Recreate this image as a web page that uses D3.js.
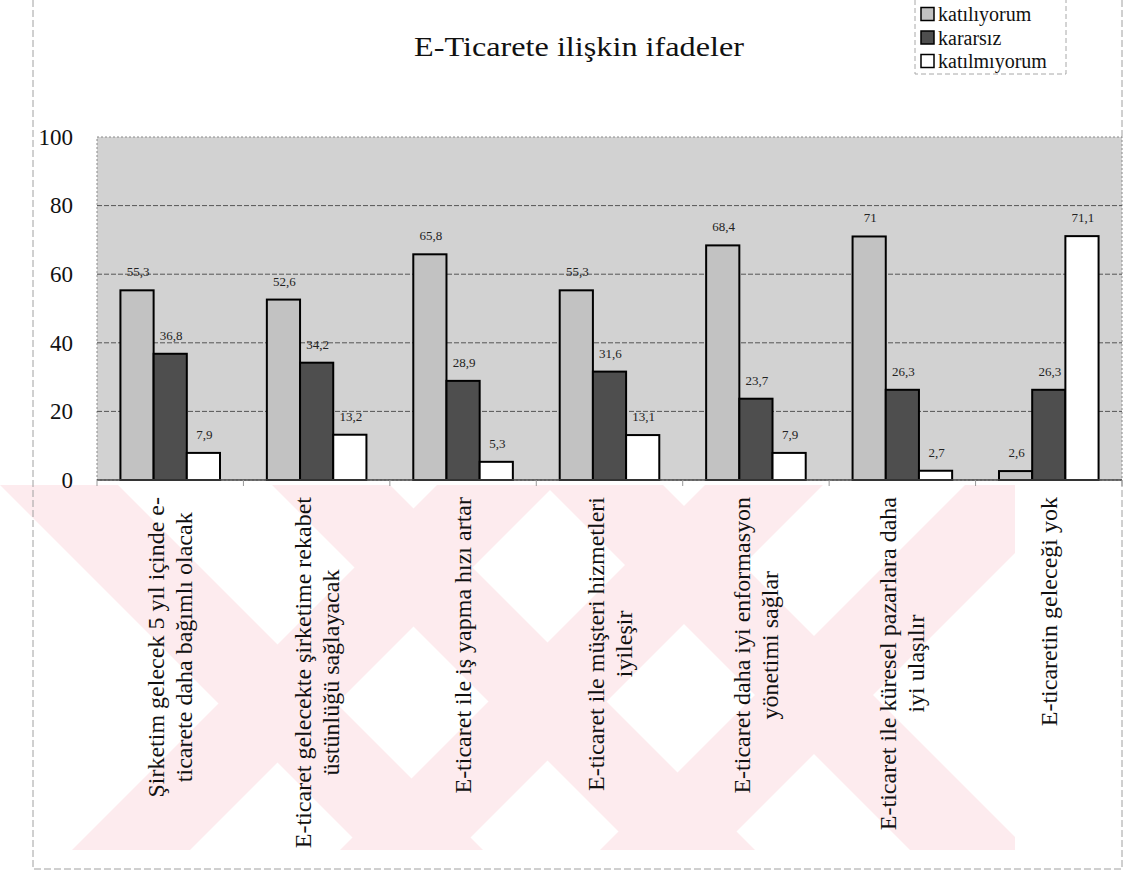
<!DOCTYPE html>
<html>
<head>
<meta charset="utf-8">
<script src="https://cdn.jsdelivr.net/npm/d3@7/dist/d3.min.js"></script>
<style>
body { margin: 0; background: #fff; }
</style>
</head>
<body>
<div id="chart"></div>
<script>
// data
var categories = ['c1', 'c2', 'c3', 'c4', 'c5', 'c6', 'c7'];
var categoryLines = [
    ['Şirketim gelecek 5 yıl içinde e-', 'ticarete daha bağımlı olacak'],
    ['E-ticaret gelecekte şirketime rekabet', 'üstünlüğü sağlayacak'],
    ['E-ticaret ile iş yapma hızı artar'],
    ['E-ticaret ile müşteri hizmetleri', 'iyileşir'],
    ['E-ticaret daha iyi enformasyon', 'yönetimi sağlar'],
    ['E-ticaret ile küresel pazarlara daha', 'iyi ulaşılır'],
    ['E-ticaretin geleceği yok']
];
var seriesNames = ['katılıyorum', 'kararsız', 'katılmıyorum'];
var katiliyorum = [55.3, 52.6, 65.8, 55.3, 68.4, 71, 2.6];
var kararsiz = [36.8, 34.2, 28.9, 31.6, 23.7, 26.3, 26.3];
var katilmiyorum = [7.9, 13.2, 5.3, 13.1, 7.9, 2.7, 71.1];
var yTicks = [0, 20, 40, 60, 80, 100];
var title = 'E-Ticarete ilişkin ifadeler';

var seriesValues = [katiliyorum, kararsiz, katilmiyorum];
var seriesFill = ['#c2c2c2', '#4e4e4e', '#ffffff'];
var serif = '"Liberation Serif", "Times New Roman", "DejaVu Serif", serif';

var W = 1126, H = 874;
var plot = { left: 97, right: 1122, top: 137, bottom: 480 };

var svg = d3.select('#chart').append('svg')
    .attr('width', W)
    .attr('height', H)
    .attr('font-family', serif);

// scanned page watermark (decorative)
var wmTop = 485, wmBottom = 850, wmW = 118;
var back = [0, 272, 545];      // "\" stripes, left edge at top
var fwd = [72, 340, 600];      // "/" stripes, left edge at bottom
svg.append('clipPath').attr('id', 'wm-clip')
    .append('rect')
    .attr('x', 0).attr('y', wmTop)
    .attr('width', 1015).attr('height', wmBottom - wmTop);
var wm = svg.append('g').attr('clip-path', 'url(#wm-clip)').attr('fill', '#fdebee');
var hh = wmBottom - wmTop;
wm.selectAll('path.b').data(back).enter().append('path')
    .attr('d', function(a) {
        return 'M' + a + ',' + wmTop + ' L' + (a + wmW) + ',' + wmTop +
            ' L' + (a + wmW + hh) + ',' + wmBottom + ' L' + (a + hh) + ',' + wmBottom + ' Z';
    });
wm.selectAll('path.f').data(fwd).enter().append('path')
    .attr('d', function(b) {
        return 'M' + b + ',' + wmBottom + ' L' + (b + wmW) + ',' + wmBottom +
            ' L' + (b + wmW + hh) + ',' + wmTop + ' L' + (b + hh) + ',' + wmTop + ' Z';
    });

// outer frame of the chart object, dashed as in the scan
var frame = svg.append('g')
    .attr('stroke', '#a0a0a0')
    .attr('stroke-dasharray', '7,3')
    .attr('fill', 'none');
frame.append('path').attr('d', 'M 33,0 L 33,869 L 1122,869 L 1122,480');
frame.append('path').attr('d', 'M 1122,0 L 1122,137');

// scales
var y = d3.scaleLinear().domain([0, 100]).range([plot.bottom, plot.top]);
var x0 = d3.scaleBand().domain(categories).range([plot.left, plot.right])
    .paddingInner(0.32).paddingOuter(0.16);
var x1 = d3.scaleBand().domain(seriesNames).range([0, x0.bandwidth()]);

// plot area
svg.append('rect')
    .attr('x', plot.left).attr('y', plot.top)
    .attr('width', plot.right - plot.left)
    .attr('height', plot.bottom - plot.top)
    .attr('fill', '#d2d2d2')
    .attr('stroke', '#8a8a8a')
    .attr('stroke-dasharray', '2,2');

// gridlines
svg.append('g').selectAll('line')
    .data(yTicks.filter(function(d) { return d > 0 && d < 100; }))
    .enter().append('line')
    .attr('x1', plot.left).attr('x2', plot.right)
    .attr('y1', function(d) { return y(d); })
    .attr('y2', function(d) { return y(d); })
    .attr('stroke', '#555')
    .attr('stroke-dasharray', '5,2');

// y axis labels
var yAxis = d3.axisLeft(y).tickValues(yTicks).tickSize(0).tickPadding(24)
    .tickFormat(d3.format('d'));
var yg = svg.append('g').attr('transform', 'translate(' + plot.left + ',0)').call(yAxis);
yg.select('.domain').remove();
yg.attr('font-family', serif).attr('font-size', 23);
yg.selectAll('text').attr('fill', '#111');

// bars
var groups = svg.append('g').selectAll('g')
    .data(categories)
    .enter().append('g')
    .attr('transform', function(d) { return 'translate(' + x0(d) + ',0)'; });

function groupData(d, i) {
    return seriesNames.map(function(s, k) {
        return { series: s, k: k, value: seriesValues[k][i] };
    });
}

groups.selectAll('rect')
    .data(groupData)
    .enter().append('rect')
    .attr('x', function(d) { return x1(d.series); })
    .attr('y', function(d) { return y(d.value); })
    .attr('width', x1.bandwidth())
    .attr('height', function(d) { return y(0) - y(d.value); })
    .attr('fill', function(d) { return seriesFill[d.k]; })
    .attr('stroke', '#000')
    .attr('stroke-width', 2);

groups.selectAll('text')
    .data(groupData)
    .enter().append('text')
    .attr('x', function(d) { return x1(d.series) + x1.bandwidth() / 2 + 1; })
    .attr('y', function(d) { return y(d.value) - 14; })
    .attr('text-anchor', 'middle')
    .attr('font-family', serif)
    .attr('font-size', 13)
    .attr('fill', '#222')
    .text(function(d) { return String(d.value).replace('.', ','); });

// x axis line and category separators
svg.append('line')
    .attr('x1', plot.left).attr('x2', plot.right)
    .attr('y1', plot.bottom).attr('y2', plot.bottom)
    .attr('stroke', '#444').attr('stroke-width', 1.5);
var step = x0.step();
svg.append('g').selectAll('line')
    .data(d3.range(categories.length + 1))
    .enter().append('line')
    .attr('x1', function(i) { return plot.left + i * step; })
    .attr('x2', function(i) { return plot.left + i * step; })
    .attr('y1', plot.bottom).attr('y2', plot.bottom + 6)
    .attr('stroke', '#999');

// rotated category labels
var lineGap = 28;
var labels = svg.append('g').selectAll('g')
    .data(categories)
    .enter().append('g')
    .attr('transform', function(d) {
        return 'translate(' + (x0(d) + x0.bandwidth() / 2) + ',497) rotate(-90)';
    });

labels.each(function(d, i) {
    var g = d3.select(this);
    var lines = categoryLines[i];
    var texts = g.selectAll('text').data(lines).enter().append('text')
        .attr('font-family', serif)
        .attr('font-size', 24)
        .attr('fill', '#111')
        .attr('text-anchor', 'middle')
        .attr('dominant-baseline', 'central')
        .attr('y', function(t, j) { return (j - (lines.length - 1) / 2) * lineGap; })
        .text(function(t) { return t; });
    var longest = d3.max(texts.nodes(), function(n) { return n.getComputedTextLength(); });
    texts.attr('x', -longest / 2);
});

// title
svg.append('text')
    .attr('x', 579).attr('y', 56)
    .attr('text-anchor', 'middle')
    .attr('font-family', serif)
    .attr('font-size', 28)
    .attr('textLength', 330)
    .attr('lengthAdjust', 'spacingAndGlyphs')
    .attr('fill', '#111')
    .text(title);

// legend
var legend = svg.append('g');
legend.append('path')
    .attr('d', 'M 915,0 L 915,74 L 1066,74 L 1066,0')
    .attr('fill', 'none').attr('stroke', '#a8a8a8').attr('stroke-dasharray', '5,3');
var items = legend.selectAll('g.item')
    .data(seriesNames)
    .enter().append('g')
    .attr('transform', function(d, i) { return 'translate(921,' + (14 + i * 23.5) + ')'; });
items.append('rect')
    .attr('x', 0).attr('y', -6.5).attr('width', 13).attr('height', 13)
    .attr('fill', function(d, i) { return seriesFill[i]; })
    .attr('stroke', '#000').attr('stroke-width', 1.5);
items.append('text')
    .attr('x', 17).attr('y', 0)
    .attr('dominant-baseline', 'central')
    .attr('font-family', serif)
    .attr('font-size', 20)
    .attr('fill', '#111')
    .text(function(d) { return d; });
</script>
</body>
</html>
